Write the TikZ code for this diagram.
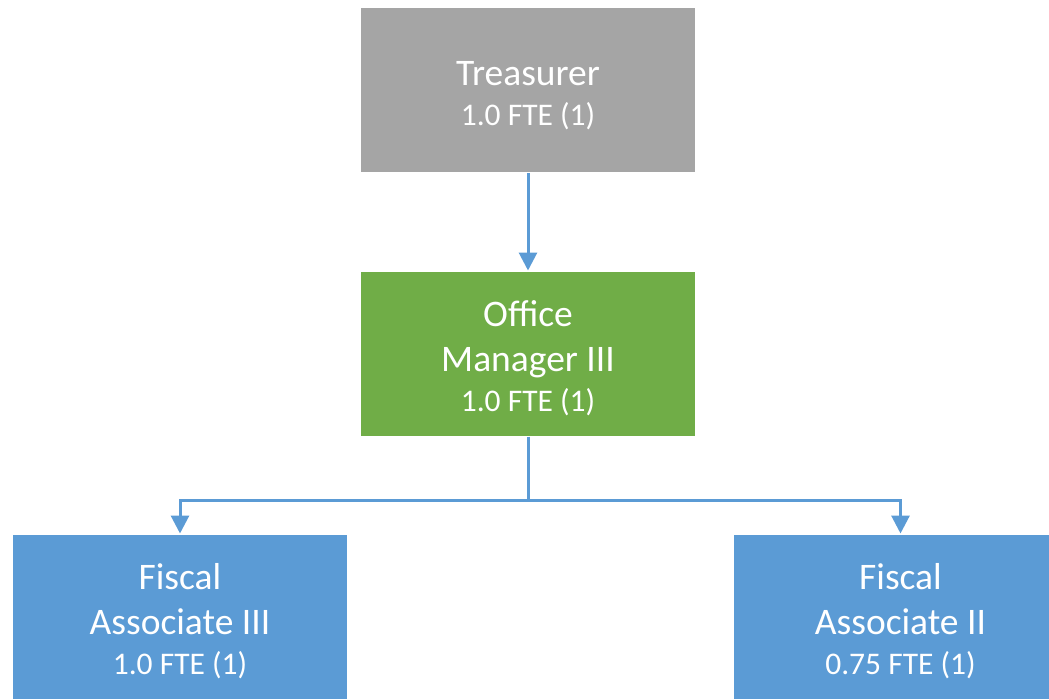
\documentclass[tikz,border=0pt]{standalone}
\usepackage{fontspec}
\setmainfont{Carlito}
\usetikzlibrary{arrows.meta}
\definecolor{boxgray}{HTML}{A5A5A5}
\definecolor{boxgreen}{HTML}{70AD47}
\definecolor{boxblue}{HTML}{5B9BD5}
\definecolor{linkblue}{HTML}{5B9BD5}
\newcommand{\fte}[1]{{\fontsize{31.5}{36}\selectfont #1}}
\newcommand{\topstrut}{\rule{0pt}{36pt}}
\tikzset{
  orgbox/.style={rectangle, draw=white, line width=1pt, text=white,
    minimum width=335pt, minimum height=165pt, align=center, inner sep=0pt,
    font=\fontsize{37.5}{45}\selectfont},
  link/.style={draw=linkblue, line width=3pt},
  linkarrow/.style={link, -{Triangle[width=18pt,length=18pt]}}
}
\begin{document}
\begin{tikzpicture}[x=1pt,y=-1pt]
\useasboundingbox (0,0) rectangle (1049,699);
\clip (0,0) rectangle (1049,699);
\node[orgbox, fill=boxgray] (t) at (528,90) {\topstrut Treasurer\\[-5pt]\fte{1.0 FTE (1)}};
\node[orgbox, fill=boxgreen] (o) at (528,353.5) {\topstrut Office\\Manager III\\[-5pt]\fte{1.0 FTE (1)}};
\node[orgbox, fill=boxblue] (f3) at (180,616.5) {\topstrut Fiscal\\Associate III\\[-5pt]\fte{1.0 FTE (1)}};
\node[orgbox, fill=boxblue] (f2) at (900.5,616.5) {\topstrut Fiscal\\Associate II\\[-5pt]\fte{0.75 FTE (1)}};
\coordinate (j) at (528,500);
\draw[linkarrow] (t.south) -- (o.north);
\draw[link] (o.south) -- (j);
\draw[linkarrow] (j) -| (f3.north);
\draw[linkarrow] (j) -| (f2.north);
\end{tikzpicture}
\end{document}
